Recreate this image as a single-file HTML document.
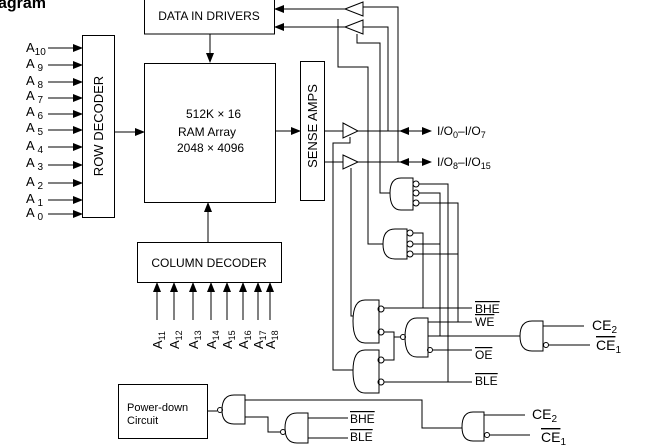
<!DOCTYPE html>
<html><head><style>
body{margin:0;background:#fff;}
svg{display:block;font-family:"Liberation Sans",Arial,sans-serif;}
</style></head><body>
<svg width="662" height="446" viewBox="0 0 662 446" xmlns="http://www.w3.org/2000/svg">
<defs>
<marker id="ar" markerWidth="10" markerHeight="8" refX="9" refY="4" orient="auto" markerUnits="userSpaceOnUse"><path d="M0,0 L10,4 L0,8 Z" fill="#000"/></marker>
<marker id="al" markerWidth="10" markerHeight="8" refX="1" refY="4" orient="auto" markerUnits="userSpaceOnUse"><path d="M10,0 L0,4 L10,8 Z" fill="#000"/></marker>
</defs>
<g stroke="#000" stroke-width="1" fill="none">
<text x="-2" y="8" font-size="16" font-weight="bold" fill="#000" stroke="none">agram</text>
<rect x="144.5" y="-1" width="130" height="35"/>
<rect x="144.5" y="63.5" width="131" height="139"/>
<rect x="82.5" y="35.5" width="32" height="182"/>
<rect x="300.5" y="61.5" width="24" height="139"/>
<rect x="137.5" y="242.5" width="144" height="40"/>
<rect x="118.5" y="384.5" width="89" height="54"/>
<line x1="210" y1="34" x2="210" y2="62" marker-end="url(#ar)"/>
<line x1="114" y1="132" x2="144" y2="132" marker-end="url(#ar)"/>
<line x1="275" y1="131" x2="300" y2="131" marker-end="url(#ar)"/>
<line x1="208" y1="242" x2="208" y2="203" marker-end="url(#ar)"/>
<line x1="345" y1="9" x2="275" y2="9" marker-end="url(#ar)"/>
<line x1="345" y1="27" x2="275" y2="27" marker-end="url(#ar)"/>
<g>
<line x1="48" y1="48" x2="82" y2="48" marker-end="url(#ar)"/>
<line x1="48" y1="65" x2="82" y2="65" marker-end="url(#ar)"/>
<line x1="48" y1="82" x2="82" y2="82" marker-end="url(#ar)"/>
<line x1="48" y1="98" x2="82" y2="98" marker-end="url(#ar)"/>
<line x1="48" y1="114" x2="82" y2="114" marker-end="url(#ar)"/>
<line x1="48" y1="130" x2="82" y2="130" marker-end="url(#ar)"/>
<line x1="48" y1="147" x2="82" y2="147" marker-end="url(#ar)"/>
<line x1="48" y1="165" x2="82" y2="165" marker-end="url(#ar)"/>
<line x1="48" y1="183" x2="82" y2="183" marker-end="url(#ar)"/>
<line x1="48" y1="200" x2="82" y2="200" marker-end="url(#ar)"/>
<line x1="48" y1="214" x2="82" y2="214" marker-end="url(#ar)"/>
</g>
<g>
<line x1="157" y1="320" x2="157" y2="283" marker-end="url(#ar)"/>
<line x1="174" y1="320" x2="174" y2="283" marker-end="url(#ar)"/>
<line x1="193" y1="320" x2="193" y2="283" marker-end="url(#ar)"/>
<line x1="211" y1="320" x2="211" y2="283" marker-end="url(#ar)"/>
<line x1="227" y1="320" x2="227" y2="283" marker-end="url(#ar)"/>
<line x1="243" y1="320" x2="243" y2="283" marker-end="url(#ar)"/>
<line x1="258" y1="320" x2="258" y2="283" marker-end="url(#ar)"/>
<line x1="270" y1="320" x2="270" y2="283" marker-end="url(#ar)"/>
</g>
<path d="M345,9 L363,2 L363,16 Z"/>
<path d="M345,27 L363,20 L363,34 Z"/>
<path d="M343,123 L358,131 L343,138 Z"/>
<path d="M343,155 L358,162 L343,169 Z"/>
<polyline points="363,7 398,7 398,162"/>
<polyline points="363,27 388,27 388,131"/>
<polyline points="338,19 338,67 368,67 368,244 383,244"/>
<polyline points="357,34 357,43 380,43 380,193 390,193"/>
<polyline points="350,137 350,143 333,143 333,370 353,370"/>
<polyline points="351,168 351,316 353,316"/>
<line x1="325" y1="131" x2="343" y2="131"/>
<line x1="325" y1="162" x2="343" y2="162"/>
<line x1="358" y1="131" x2="400" y2="131"/>
<line x1="358" y1="162" x2="400" y2="162"/>
<line x1="400" y1="131" x2="431" y2="131" marker-start="url(#al)" marker-end="url(#ar)"/>
<line x1="400" y1="162" x2="431" y2="162" marker-start="url(#al)" marker-end="url(#ar)"/>
<path d="M413,178 H401 Q390,178 390,193 Q390,210 401,210 H413 Z"/>
<path d="M407,229 H395 Q383,229 383,244 Q383,259 395,259 H407 Z"/>
<path d="M379,300 H365 Q353,300 353,321 Q353,343 365,343 H379 Z"/>
<path d="M379,350 H365 Q353,350 353,371 Q353,393 365,393 H379 Z"/>
<path d="M428,318 H417 Q405,318 405,337 Q405,357 417,357 H428 Z"/>
<path d="M543,321 H532 Q520,321 520,336 Q520,351 532,351 H543 Z"/>
<path d="M245,395 H234 Q222,395 222,410 Q222,424 234,424 H245 Z"/>
<path d="M308,413 H297 Q285,413 285,428 Q285,443 297,443 H308 Z"/>
<path d="M484,412 H473 Q462,412 462,427 Q462,441 473,441 H484 Z"/>
<g>
<circle cx="416" cy="184" r="3"/><circle cx="416" cy="193" r="3"/><circle cx="416" cy="203" r="3"/>
<circle cx="410" cy="233" r="3"/><circle cx="410" cy="244" r="3"/><circle cx="410" cy="254" r="3"/>
<circle cx="381" cy="309" r="3"/><circle cx="381" cy="332" r="3"/>
<circle cx="381" cy="360" r="3"/><circle cx="381" cy="382" r="3"/>
<circle cx="403" cy="337" r="2.5"/><circle cx="430" cy="350" r="2.5"/>
<circle cx="546" cy="345" r="2.5"/>
<circle cx="220" cy="410" r="2.5"/><circle cx="283" cy="432" r="2.5"/><circle cx="487" cy="435" r="2.5"/>
</g>
<polyline points="419,184 448,184 448,382"/>
<polyline points="419,193 440,193 440,336"/>
<polyline points="419,203 458,203 458,322"/>
<polyline points="413,233 423,233 423,308"/>
<line x1="413" y1="244" x2="440" y2="244"/>
<line x1="413" y1="254" x2="458" y2="254"/>
<line x1="384" y1="308" x2="472" y2="308"/>
<line x1="428" y1="322" x2="472" y2="322"/>
<line x1="428" y1="336" x2="520" y2="336"/>
<line x1="433" y1="350" x2="472" y2="350"/>
<line x1="384" y1="382" x2="472" y2="382"/>
<polyline points="384,332 394,332 394,360 384,360"/>
<line x1="394" y1="337" x2="400" y2="337"/>
<line x1="543" y1="326" x2="584" y2="326"/>
<line x1="549" y1="345" x2="590" y2="345"/>
<line x1="207" y1="411" x2="217" y2="411"/>
<polyline points="245,400 422,400 422,428 462,428"/>
<polyline points="245,417 268,417 268,432 280,432"/>
<line x1="308" y1="418" x2="348" y2="418"/>
<line x1="308" y1="438" x2="348" y2="438"/>
<line x1="484" y1="415" x2="525" y2="415"/>
<line x1="490" y1="435" x2="530" y2="435"/>
</g>
<g fill="#000" font-size="12">
<text x="209" y="20" text-anchor="middle">DATA IN DRIVERS</text>
<text x="186" y="118">512K × 16</text>
<text x="178" y="136">RAM Array</text>
<text x="177" y="152">2048 × 4096</text>
<text x="209" y="267" text-anchor="middle">COLUMN DECODER</text>
<text transform="translate(103,126) rotate(-90)" text-anchor="middle" font-size="13">ROW DECODER</text>
<text transform="translate(317,126) rotate(-90)" text-anchor="middle" font-size="13">SENSE AMPS</text>
<text x="127" y="411" font-size="11">Power-down</text>
<text x="127" y="424" font-size="11">Circuit</text>
<text x="437" y="135" font-size="12">I/O<tspan font-size="9" dy="3">0</tspan><tspan dy="-3">–I/O</tspan><tspan font-size="9" dy="3">7</tspan></text>
<text x="437" y="166" font-size="12">I/O<tspan font-size="9" dy="3">8</tspan><tspan dy="-3">–I/O</tspan><tspan font-size="9" dy="3">15</tspan></text>
<g font-size="13">
<text x="26" y="52">A<tspan font-size="10" dy="3">10</tspan></text>
<text x="26" y="68">A<tspan font-size="10" dy="3"> 9</tspan></text>
<text x="26" y="85">A<tspan font-size="10" dy="3"> 8</tspan></text>
<text x="26" y="100">A<tspan font-size="10" dy="3"> 7</tspan></text>
<text x="26" y="116">A<tspan font-size="10" dy="3"> 6</tspan></text>
<text x="26" y="132">A<tspan font-size="10" dy="3"> 5</tspan></text>
<text x="26" y="150">A<tspan font-size="10" dy="3"> 4</tspan></text>
<text x="26" y="167">A<tspan font-size="10" dy="3"> 3</tspan></text>
<text x="26" y="186">A<tspan font-size="10" dy="3"> 2</tspan></text>
<text x="26" y="203">A<tspan font-size="10" dy="3"> 1</tspan></text>
<text x="26" y="217">A<tspan font-size="10" dy="3"> 0</tspan></text>
</g>
<g font-size="13">
<text transform="translate(162,349) rotate(-90)">A<tspan font-size="9" dy="3">11</tspan></text>
<text transform="translate(179,349) rotate(-90)">A<tspan font-size="9" dy="3">12</tspan></text>
<text transform="translate(198,349) rotate(-90)">A<tspan font-size="9" dy="3">13</tspan></text>
<text transform="translate(216,349) rotate(-90)">A<tspan font-size="9" dy="3">14</tspan></text>
<text transform="translate(232,349) rotate(-90)">A<tspan font-size="9" dy="3">15</tspan></text>
<text transform="translate(248,349) rotate(-90)">A<tspan font-size="9" dy="3">16</tspan></text>
<text transform="translate(263,349) rotate(-90)">A<tspan font-size="9" dy="3">17</tspan></text>
<text transform="translate(275,349) rotate(-90)">A<tspan font-size="9" dy="3">18</tspan></text>
</g>
<g font-size="12">
<text x="475" y="313" text-decoration="overline">BHE</text>
<text x="475" y="326" text-decoration="overline">WE</text>
<text x="475" y="359" text-decoration="overline">OE</text>
<text x="475" y="385" text-decoration="overline">BLE</text>
<text x="350" y="423" text-decoration="overline">BHE</text>
<text x="350" y="441" text-decoration="overline">BLE</text>
</g>
<g font-size="14">
<text x="592" y="330">CE<tspan font-size="10" dy="3">2</tspan></text>
<text x="596" y="350"><tspan text-decoration="overline">CE</tspan><tspan font-size="10" dy="3">1</tspan></text>
<text x="532" y="419">CE<tspan font-size="10" dy="3">2</tspan></text>
<text x="541" y="442"><tspan text-decoration="overline">CE</tspan><tspan font-size="10" dy="3">1</tspan></text>
</g>
</g>
</svg>
</body></html>
